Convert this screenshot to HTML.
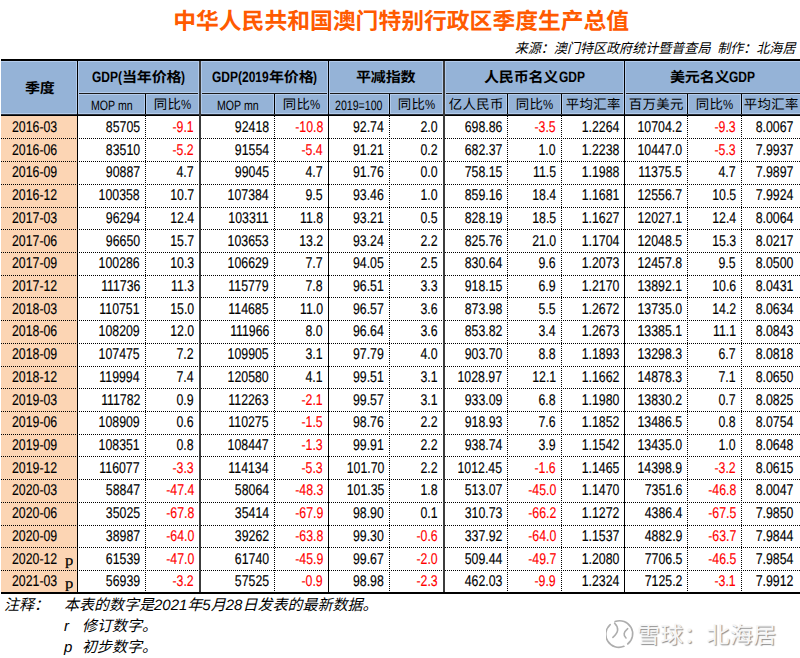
<!DOCTYPE html>
<html lang="zh-CN"><head><meta charset="utf-8"><title>澳门季度生产总值</title>
<style>
html,body{margin:0;padding:0;background:#fff}
body{width:800px;height:658px;position:relative;overflow:hidden;font-family:"Liberation Sans", "Noto Sans CJK SC", sans-serif;color:#000;text-rendering:geometricPrecision}
.a{position:absolute;white-space:nowrap}
.c{text-align:center}
.sb{display:inline-block}
.si{display:inline-block;transform-origin:0 50%}
.cj{font-family:"Noto Sans CJK SC", sans-serif}
.d{font-size:15.5px;line-height:18px;transform:scaleX(0.795);-webkit-text-stroke:0.15px currentColor}
.d.r{transform-origin:100% 50%}
.d.l{transform-origin:0 50%}
.red{color:#ff0000}
.hd{height:1px;background:repeating-linear-gradient(to right,#000 0 1px,transparent 1px 2px)}
.vd{width:1px;background:repeating-linear-gradient(to bottom,#000 0 1px,transparent 1px 2px)}
.pm{font-family:"Liberation Serif",serif;font-size:14.5px;line-height:18px;-webkit-text-stroke:0.2px #000;transform:scaleX(1.15);transform-origin:0 0}
.it{font-style:italic;font-family:"Liberation Sans", "Noto Sans CJK SC", sans-serif}
.wm{font-family:"Noto Sans CJK SC", sans-serif;color:#f6f6f6;text-shadow:1px 1px 1px #8c8c8c;letter-spacing:0.2px}
</style></head>
<body>
<div class="a" style="left:1px;top:61px;width:799px;height:53px;background:#95b3d7"></div>
<div class="a" style="left:1px;top:116px;width:76px;height:476px;background:#fcd5b4"></div>
<div class="a" style="left:1px;top:61px;width:799px;height:1px;background:#b3cbeb"></div>
<div class="a" style="left:78px;top:94px;width:722px;height:1px;background:#b3cbeb"></div>
<div class="a" style="left:78px;top:92px;width:722px;height:1px;background:#b3cbeb"></div>
<div class="a" style="left:1px;top:113px;width:799px;height:1px;background:#b3cbeb"></div>
<div class="a" style="left:1px;top:59px;width:799px;height:2px;background:#000"></div>
<div class="a" style="left:77px;top:93px;width:723px;height:1px;background:#1a1a1a"></div>
<div class="a" style="left:1px;top:114px;width:799px;height:1px;background:#2a2f38"></div>
<div class="a" style="left:1px;top:115px;width:799px;height:1px;background:#000"></div>
<div class="a hd" style="left:1px;top:138px;width:799px"></div>
<div class="a hd" style="left:1px;top:161px;width:799px"></div>
<div class="a hd" style="left:1px;top:184px;width:799px"></div>
<div class="a hd" style="left:1px;top:207px;width:799px"></div>
<div class="a hd" style="left:1px;top:229px;width:799px"></div>
<div class="a hd" style="left:1px;top:252px;width:799px"></div>
<div class="a hd" style="left:1px;top:275px;width:799px"></div>
<div class="a hd" style="left:1px;top:297px;width:799px"></div>
<div class="a hd" style="left:1px;top:320px;width:799px"></div>
<div class="a hd" style="left:1px;top:343px;width:799px"></div>
<div class="a hd" style="left:1px;top:366px;width:799px"></div>
<div class="a hd" style="left:1px;top:388px;width:799px"></div>
<div class="a hd" style="left:1px;top:411px;width:799px"></div>
<div class="a hd" style="left:1px;top:434px;width:799px"></div>
<div class="a hd" style="left:1px;top:456px;width:799px"></div>
<div class="a hd" style="left:1px;top:479px;width:799px"></div>
<div class="a hd" style="left:1px;top:502px;width:799px"></div>
<div class="a hd" style="left:1px;top:525px;width:799px"></div>
<div class="a hd" style="left:1px;top:547px;width:799px"></div>
<div class="a hd" style="left:1px;top:570px;width:799px"></div>
<div class="a" style="left:1px;top:592px;width:799px;height:2px;background:#000"></div>
<div class="a" style="left:76px;top:61px;width:1px;height:53px;background:#b3cbeb"></div>
<div class="a" style="left:78px;top:61px;width:1px;height:53px;background:#b3cbeb"></div>
<div class="a" style="left:144px;top:94px;width:1px;height:20px;background:#b3cbeb"></div>
<div class="a" style="left:146px;top:94px;width:1px;height:20px;background:#b3cbeb"></div>
<div class="a" style="left:198px;top:61px;width:1px;height:53px;background:#b3cbeb"></div>
<div class="a" style="left:201px;top:61px;width:1px;height:53px;background:#b3cbeb"></div>
<div class="a" style="left:273px;top:94px;width:1px;height:20px;background:#b3cbeb"></div>
<div class="a" style="left:275px;top:94px;width:1px;height:20px;background:#b3cbeb"></div>
<div class="a" style="left:327px;top:61px;width:1px;height:53px;background:#b3cbeb"></div>
<div class="a" style="left:329px;top:61px;width:1px;height:53px;background:#b3cbeb"></div>
<div class="a" style="left:388px;top:94px;width:1px;height:20px;background:#b3cbeb"></div>
<div class="a" style="left:390px;top:94px;width:1px;height:20px;background:#b3cbeb"></div>
<div class="a" style="left:442px;top:61px;width:1px;height:53px;background:#b3cbeb"></div>
<div class="a" style="left:445px;top:61px;width:1px;height:53px;background:#b3cbeb"></div>
<div class="a" style="left:506px;top:94px;width:1px;height:20px;background:#b3cbeb"></div>
<div class="a" style="left:508px;top:94px;width:1px;height:20px;background:#b3cbeb"></div>
<div class="a" style="left:560px;top:94px;width:1px;height:20px;background:#b3cbeb"></div>
<div class="a" style="left:562px;top:94px;width:1px;height:20px;background:#b3cbeb"></div>
<div class="a" style="left:623px;top:61px;width:1px;height:53px;background:#b3cbeb"></div>
<div class="a" style="left:625px;top:61px;width:1px;height:53px;background:#b3cbeb"></div>
<div class="a" style="left:686px;top:94px;width:1px;height:20px;background:#b3cbeb"></div>
<div class="a" style="left:688px;top:94px;width:1px;height:20px;background:#b3cbeb"></div>
<div class="a" style="left:740px;top:94px;width:1px;height:20px;background:#b3cbeb"></div>
<div class="a" style="left:742px;top:94px;width:1px;height:20px;background:#b3cbeb"></div>
<div class="a" style="left:77px;top:61px;width:1px;height:531px;background:#000"></div>
<div class="a" style="left:145px;top:94px;width:1px;height:20px;background:#000"></div>
<div class="a vd" style="left:145px;top:116px;height:476px"></div>
<div class="a" style="left:199px;top:61px;width:2px;height:531px;background:#3c3c3c"></div>
<div class="a" style="left:274px;top:94px;width:1px;height:20px;background:#000"></div>
<div class="a vd" style="left:274px;top:116px;height:476px"></div>
<div class="a" style="left:328px;top:61px;width:1px;height:531px;background:#000"></div>
<div class="a" style="left:389px;top:94px;width:1px;height:20px;background:#000"></div>
<div class="a vd" style="left:389px;top:116px;height:476px"></div>
<div class="a" style="left:443px;top:61px;width:2px;height:531px;background:#3c3c3c"></div>
<div class="a" style="left:507px;top:94px;width:1px;height:20px;background:#000"></div>
<div class="a vd" style="left:507px;top:116px;height:476px"></div>
<div class="a" style="left:561px;top:94px;width:1px;height:20px;background:#000"></div>
<div class="a vd" style="left:561px;top:116px;height:476px"></div>
<div class="a" style="left:624px;top:61px;width:1px;height:531px;background:#000"></div>
<div class="a" style="left:687px;top:94px;width:1px;height:20px;background:#000"></div>
<div class="a vd" style="left:687px;top:116px;height:476px"></div>
<div class="a" style="left:741px;top:94px;width:1px;height:20px;background:#000"></div>
<div class="a vd" style="left:741px;top:116px;height:476px"></div>
<div class="a" style="left:0.7px;width:801px;top:5.80px;line-height:30px;font-size:22.8px;text-align:center;color:#ff5a00;font-weight:bold">中华人民共和国澳门特别行政区季度生产总值</div>
<div class="a" style="right:4.5px;top:41.29px;line-height:16px;font-size:13.6px;font-style:italic;transform:scaleX(0.96);transform-origin:100% 50%">来源：澳门特区政府统计暨普查局<span style="display:inline-block;width:7px"> </span>制作：北海居</div>
<div class="a" style="left:24.56px;top:78.31px;line-height:20px;font-family:'Noto Sans CJK SC';font-size:14.2px;font-weight:bold;letter-spacing:-0.2px;transform:scaleX(1.06);transform-origin:0 0">季度</div>
<div class="a" style="left:91.74px;top:68.00px;line-height:20px;font-family:'Liberation Sans';font-size:15.0px;font-weight:bold;letter-spacing:0.0px;transform:scaleX(0.8);transform-origin:0 0">GDP(</div>
<div class="a" style="left:121.74px;top:67.01px;line-height:20px;font-family:'Noto Sans CJK SC';font-size:14.2px;font-weight:bold;letter-spacing:-0.2px;transform:scaleX(1.06);transform-origin:0 0">当年价格</div>
<div class="a" style="left:181.26px;top:68.00px;line-height:20px;font-family:'Liberation Sans';font-size:15.0px;font-weight:bold;letter-spacing:0.0px;transform:scaleX(0.8);transform-origin:0 0">)</div>
<div class="a" style="left:211.80px;top:68.00px;line-height:20px;font-family:'Liberation Sans';font-size:15.0px;font-weight:bold;letter-spacing:0.0px;transform:scaleX(0.8);transform-origin:0 0">GDP(2019</div>
<div class="a" style="left:268.50px;top:67.01px;line-height:20px;font-family:'Noto Sans CJK SC';font-size:14.2px;font-weight:bold;letter-spacing:-0.2px;transform:scaleX(1.06);transform-origin:0 0">年价格</div>
<div class="a" style="left:313.20px;top:68.00px;line-height:20px;font-family:'Liberation Sans';font-size:15.0px;font-weight:bold;letter-spacing:0.0px;transform:scaleX(0.8);transform-origin:0 0">)</div>
<div class="a" style="left:356.24px;top:67.01px;line-height:20px;font-family:'Noto Sans CJK SC';font-size:14.2px;font-weight:bold;letter-spacing:-0.2px;transform:scaleX(1.06);transform-origin:0 0">平减指数</div>
<div class="a" style="left:484.31px;top:67.01px;line-height:20px;font-family:'Noto Sans CJK SC';font-size:14.2px;font-weight:bold;letter-spacing:-0.2px;transform:scaleX(1.06);transform-origin:0 0">人民币名义</div>
<div class="a" style="left:558.67px;top:68.00px;line-height:20px;font-family:'Liberation Sans';font-size:15.0px;font-weight:bold;letter-spacing:0.0px;transform:scaleX(0.8);transform-origin:0 0">GDP</div>
<div class="a" style="left:669.73px;top:67.01px;line-height:20px;font-family:'Noto Sans CJK SC';font-size:14.2px;font-weight:bold;letter-spacing:-0.2px;transform:scaleX(1.06);transform-origin:0 0">美元名义</div>
<div class="a" style="left:729.25px;top:68.00px;line-height:20px;font-family:'Liberation Sans';font-size:15.0px;font-weight:bold;letter-spacing:0.0px;transform:scaleX(0.8);transform-origin:0 0">GDP</div>
<div class="a" style="left:90.69px;top:95.82px;line-height:20px;font-family:'Liberation Sans';font-size:13.5px;font-weight:normal;letter-spacing:0.0px;transform:scaleX(0.785);transform-origin:0 0">MOP mn</div>
<div class="a" style="left:153.83px;top:93.36px;line-height:20px;font-family:'Noto Sans CJK SC';font-size:13.4px;font-weight:normal;letter-spacing:0.35px;transform:scaleX(1.0);transform-origin:0 0">同比</div>
<div class="a" style="left:180.96px;top:95.02px;line-height:20px;font-family:'Liberation Sans';font-size:13.5px;font-weight:normal;letter-spacing:0.0px;transform:scaleX(0.85);transform-origin:0 0">%</div>
<div class="a" style="left:216.69px;top:95.82px;line-height:20px;font-family:'Liberation Sans';font-size:13.5px;font-weight:normal;letter-spacing:0.0px;transform:scaleX(0.785);transform-origin:0 0">MOP mn</div>
<div class="a" style="left:282.83px;top:93.36px;line-height:20px;font-family:'Noto Sans CJK SC';font-size:13.4px;font-weight:normal;letter-spacing:0.35px;transform:scaleX(1.0);transform-origin:0 0">同比</div>
<div class="a" style="left:309.96px;top:95.02px;line-height:20px;font-family:'Liberation Sans';font-size:13.5px;font-weight:normal;letter-spacing:0.0px;transform:scaleX(0.85);transform-origin:0 0">%</div>
<div class="a" style="left:335.27px;top:95.82px;line-height:20px;font-family:'Liberation Sans';font-size:13.5px;font-weight:normal;letter-spacing:0.0px;transform:scaleX(0.785);transform-origin:0 0">2019=100</div>
<div class="a" style="left:397.83px;top:93.36px;line-height:20px;font-family:'Noto Sans CJK SC';font-size:13.4px;font-weight:normal;letter-spacing:0.35px;transform:scaleX(1.0);transform-origin:0 0">同比</div>
<div class="a" style="left:424.96px;top:95.02px;line-height:20px;font-family:'Liberation Sans';font-size:13.5px;font-weight:normal;letter-spacing:0.0px;transform:scaleX(0.85);transform-origin:0 0">%</div>
<div class="a" style="left:448.69px;top:93.36px;line-height:20px;font-family:'Noto Sans CJK SC';font-size:13.4px;font-weight:normal;letter-spacing:0.35px;transform:scaleX(1.0);transform-origin:0 0">亿人民币</div>
<div class="a" style="left:515.83px;top:93.36px;line-height:20px;font-family:'Noto Sans CJK SC';font-size:13.4px;font-weight:normal;letter-spacing:0.35px;transform:scaleX(1.0);transform-origin:0 0">同比</div>
<div class="a" style="left:542.96px;top:95.02px;line-height:20px;font-family:'Liberation Sans';font-size:13.5px;font-weight:normal;letter-spacing:0.0px;transform:scaleX(0.85);transform-origin:0 0">%</div>
<div class="a" style="left:565.69px;top:93.36px;line-height:20px;font-family:'Noto Sans CJK SC';font-size:13.4px;font-weight:normal;letter-spacing:0.35px;transform:scaleX(1.0);transform-origin:0 0">平均汇率</div>
<div class="a" style="left:628.69px;top:93.36px;line-height:20px;font-family:'Noto Sans CJK SC';font-size:13.4px;font-weight:normal;letter-spacing:0.35px;transform:scaleX(1.0);transform-origin:0 0">百万美元</div>
<div class="a" style="left:695.83px;top:93.36px;line-height:20px;font-family:'Noto Sans CJK SC';font-size:13.4px;font-weight:normal;letter-spacing:0.35px;transform:scaleX(1.0);transform-origin:0 0">同比</div>
<div class="a" style="left:722.96px;top:95.02px;line-height:20px;font-family:'Liberation Sans';font-size:13.5px;font-weight:normal;letter-spacing:0.0px;transform:scaleX(0.85);transform-origin:0 0">%</div>
<div class="a" style="left:743.69px;top:93.36px;line-height:20px;font-family:'Noto Sans CJK SC';font-size:13.4px;font-weight:normal;letter-spacing:0.35px;transform:scaleX(1.0);transform-origin:0 0">平均汇率</div>
<div class="a d l" style="left:11.6px;top:118.93px">2016-03</div>
<div class="a d r" style="right:660px;top:118.93px">85705</div>
<div class="a d r red" style="right:606px;top:118.93px">-9.1</div>
<div class="a d r" style="right:531px;top:118.93px">92418</div>
<div class="a d r red" style="right:477px;top:118.93px">-10.8</div>
<div class="a d r" style="right:416px;top:118.93px">92.74</div>
<div class="a d r" style="right:362px;top:118.93px">2.0</div>
<div class="a d r" style="right:298px;top:118.93px">698.86</div>
<div class="a d r red" style="right:244px;top:118.93px">-3.5</div>
<div class="a d r" style="right:181px;top:118.93px">1.2264</div>
<div class="a d r" style="right:118px;top:118.93px">10704.2</div>
<div class="a d r red" style="right:64px;top:118.93px">-9.3</div>
<div class="a d r" style="right:7px;top:118.93px">8.0067</div>
<div class="a d l" style="left:11.6px;top:141.65px">2016-06</div>
<div class="a d r" style="right:660px;top:141.65px">83510</div>
<div class="a d r red" style="right:606px;top:141.65px">-5.2</div>
<div class="a d r" style="right:531px;top:141.65px">91554</div>
<div class="a d r red" style="right:477px;top:141.65px">-5.4</div>
<div class="a d r" style="right:416px;top:141.65px">91.21</div>
<div class="a d r" style="right:362px;top:141.65px">0.2</div>
<div class="a d r" style="right:298px;top:141.65px">682.37</div>
<div class="a d r" style="right:244px;top:141.65px">1.0</div>
<div class="a d r" style="right:181px;top:141.65px">1.2238</div>
<div class="a d r" style="right:118px;top:141.65px">10447.0</div>
<div class="a d r red" style="right:64px;top:141.65px">-5.3</div>
<div class="a d r" style="right:7px;top:141.65px">7.9937</div>
<div class="a d l" style="left:11.6px;top:164.37px">2016-09</div>
<div class="a d r" style="right:660px;top:164.37px">90887</div>
<div class="a d r" style="right:606px;top:164.37px">4.7</div>
<div class="a d r" style="right:531px;top:164.37px">99045</div>
<div class="a d r" style="right:477px;top:164.37px">4.7</div>
<div class="a d r" style="right:416px;top:164.37px">91.76</div>
<div class="a d r" style="right:362px;top:164.37px">0.0</div>
<div class="a d r" style="right:298px;top:164.37px">758.15</div>
<div class="a d r" style="right:244px;top:164.37px">11.5</div>
<div class="a d r" style="right:181px;top:164.37px">1.1988</div>
<div class="a d r" style="right:118px;top:164.37px">11375.5</div>
<div class="a d r" style="right:64px;top:164.37px">4.7</div>
<div class="a d r" style="right:7px;top:164.37px">7.9897</div>
<div class="a d l" style="left:11.6px;top:187.09px">2016-12</div>
<div class="a d r" style="right:660px;top:187.09px">100358</div>
<div class="a d r" style="right:606px;top:187.09px">10.7</div>
<div class="a d r" style="right:531px;top:187.09px">107384</div>
<div class="a d r" style="right:477px;top:187.09px">9.5</div>
<div class="a d r" style="right:416px;top:187.09px">93.46</div>
<div class="a d r" style="right:362px;top:187.09px">1.0</div>
<div class="a d r" style="right:298px;top:187.09px">859.16</div>
<div class="a d r" style="right:244px;top:187.09px">18.4</div>
<div class="a d r" style="right:181px;top:187.09px">1.1681</div>
<div class="a d r" style="right:118px;top:187.09px">12556.7</div>
<div class="a d r" style="right:64px;top:187.09px">10.5</div>
<div class="a d r" style="right:7px;top:187.09px">7.9924</div>
<div class="a d l" style="left:11.6px;top:209.81px">2017-03</div>
<div class="a d r" style="right:660px;top:209.81px">96294</div>
<div class="a d r" style="right:606px;top:209.81px">12.4</div>
<div class="a d r" style="right:531px;top:209.81px">103311</div>
<div class="a d r" style="right:477px;top:209.81px">11.8</div>
<div class="a d r" style="right:416px;top:209.81px">93.21</div>
<div class="a d r" style="right:362px;top:209.81px">0.5</div>
<div class="a d r" style="right:298px;top:209.81px">828.19</div>
<div class="a d r" style="right:244px;top:209.81px">18.5</div>
<div class="a d r" style="right:181px;top:209.81px">1.1627</div>
<div class="a d r" style="right:118px;top:209.81px">12027.1</div>
<div class="a d r" style="right:64px;top:209.81px">12.4</div>
<div class="a d r" style="right:7px;top:209.81px">8.0064</div>
<div class="a d l" style="left:11.6px;top:232.53px">2017-06</div>
<div class="a d r" style="right:660px;top:232.53px">96650</div>
<div class="a d r" style="right:606px;top:232.53px">15.7</div>
<div class="a d r" style="right:531px;top:232.53px">103653</div>
<div class="a d r" style="right:477px;top:232.53px">13.2</div>
<div class="a d r" style="right:416px;top:232.53px">93.24</div>
<div class="a d r" style="right:362px;top:232.53px">2.2</div>
<div class="a d r" style="right:298px;top:232.53px">825.76</div>
<div class="a d r" style="right:244px;top:232.53px">21.0</div>
<div class="a d r" style="right:181px;top:232.53px">1.1704</div>
<div class="a d r" style="right:118px;top:232.53px">12048.5</div>
<div class="a d r" style="right:64px;top:232.53px">15.3</div>
<div class="a d r" style="right:7px;top:232.53px">8.0217</div>
<div class="a d l" style="left:11.6px;top:255.25px">2017-09</div>
<div class="a d r" style="right:660px;top:255.25px">100286</div>
<div class="a d r" style="right:606px;top:255.25px">10.3</div>
<div class="a d r" style="right:531px;top:255.25px">106629</div>
<div class="a d r" style="right:477px;top:255.25px">7.7</div>
<div class="a d r" style="right:416px;top:255.25px">94.05</div>
<div class="a d r" style="right:362px;top:255.25px">2.5</div>
<div class="a d r" style="right:298px;top:255.25px">830.64</div>
<div class="a d r" style="right:244px;top:255.25px">9.6</div>
<div class="a d r" style="right:181px;top:255.25px">1.2073</div>
<div class="a d r" style="right:118px;top:255.25px">12457.8</div>
<div class="a d r" style="right:64px;top:255.25px">9.5</div>
<div class="a d r" style="right:7px;top:255.25px">8.0500</div>
<div class="a d l" style="left:11.6px;top:277.97px">2017-12</div>
<div class="a d r" style="right:660px;top:277.97px">111736</div>
<div class="a d r" style="right:606px;top:277.97px">11.3</div>
<div class="a d r" style="right:531px;top:277.97px">115779</div>
<div class="a d r" style="right:477px;top:277.97px">7.8</div>
<div class="a d r" style="right:416px;top:277.97px">96.51</div>
<div class="a d r" style="right:362px;top:277.97px">3.3</div>
<div class="a d r" style="right:298px;top:277.97px">918.15</div>
<div class="a d r" style="right:244px;top:277.97px">6.9</div>
<div class="a d r" style="right:181px;top:277.97px">1.2170</div>
<div class="a d r" style="right:118px;top:277.97px">13892.1</div>
<div class="a d r" style="right:64px;top:277.97px">10.6</div>
<div class="a d r" style="right:7px;top:277.97px">8.0431</div>
<div class="a d l" style="left:11.6px;top:300.69px">2018-03</div>
<div class="a d r" style="right:660px;top:300.69px">110751</div>
<div class="a d r" style="right:606px;top:300.69px">15.0</div>
<div class="a d r" style="right:531px;top:300.69px">114685</div>
<div class="a d r" style="right:477px;top:300.69px">11.0</div>
<div class="a d r" style="right:416px;top:300.69px">96.57</div>
<div class="a d r" style="right:362px;top:300.69px">3.6</div>
<div class="a d r" style="right:298px;top:300.69px">873.98</div>
<div class="a d r" style="right:244px;top:300.69px">5.5</div>
<div class="a d r" style="right:181px;top:300.69px">1.2672</div>
<div class="a d r" style="right:118px;top:300.69px">13735.0</div>
<div class="a d r" style="right:64px;top:300.69px">14.2</div>
<div class="a d r" style="right:7px;top:300.69px">8.0634</div>
<div class="a d l" style="left:11.6px;top:323.41px">2018-06</div>
<div class="a d r" style="right:660px;top:323.41px">108209</div>
<div class="a d r" style="right:606px;top:323.41px">12.0</div>
<div class="a d r" style="right:531px;top:323.41px">111966</div>
<div class="a d r" style="right:477px;top:323.41px">8.0</div>
<div class="a d r" style="right:416px;top:323.41px">96.64</div>
<div class="a d r" style="right:362px;top:323.41px">3.6</div>
<div class="a d r" style="right:298px;top:323.41px">853.82</div>
<div class="a d r" style="right:244px;top:323.41px">3.4</div>
<div class="a d r" style="right:181px;top:323.41px">1.2673</div>
<div class="a d r" style="right:118px;top:323.41px">13385.1</div>
<div class="a d r" style="right:64px;top:323.41px">11.1</div>
<div class="a d r" style="right:7px;top:323.41px">8.0843</div>
<div class="a d l" style="left:11.6px;top:346.13px">2018-09</div>
<div class="a d r" style="right:660px;top:346.13px">107475</div>
<div class="a d r" style="right:606px;top:346.13px">7.2</div>
<div class="a d r" style="right:531px;top:346.13px">109905</div>
<div class="a d r" style="right:477px;top:346.13px">3.1</div>
<div class="a d r" style="right:416px;top:346.13px">97.79</div>
<div class="a d r" style="right:362px;top:346.13px">4.0</div>
<div class="a d r" style="right:298px;top:346.13px">903.70</div>
<div class="a d r" style="right:244px;top:346.13px">8.8</div>
<div class="a d r" style="right:181px;top:346.13px">1.1893</div>
<div class="a d r" style="right:118px;top:346.13px">13298.3</div>
<div class="a d r" style="right:64px;top:346.13px">6.7</div>
<div class="a d r" style="right:7px;top:346.13px">8.0818</div>
<div class="a d l" style="left:11.6px;top:368.85px">2018-12</div>
<div class="a d r" style="right:660px;top:368.85px">119994</div>
<div class="a d r" style="right:606px;top:368.85px">7.4</div>
<div class="a d r" style="right:531px;top:368.85px">120580</div>
<div class="a d r" style="right:477px;top:368.85px">4.1</div>
<div class="a d r" style="right:416px;top:368.85px">99.51</div>
<div class="a d r" style="right:362px;top:368.85px">3.1</div>
<div class="a d r" style="right:298px;top:368.85px">1028.97</div>
<div class="a d r" style="right:244px;top:368.85px">12.1</div>
<div class="a d r" style="right:181px;top:368.85px">1.1662</div>
<div class="a d r" style="right:118px;top:368.85px">14878.3</div>
<div class="a d r" style="right:64px;top:368.85px">7.1</div>
<div class="a d r" style="right:7px;top:368.85px">8.0650</div>
<div class="a d l" style="left:11.6px;top:391.57px">2019-03</div>
<div class="a d r" style="right:660px;top:391.57px">111782</div>
<div class="a d r" style="right:606px;top:391.57px">0.9</div>
<div class="a d r" style="right:531px;top:391.57px">112263</div>
<div class="a d r red" style="right:477px;top:391.57px">-2.1</div>
<div class="a d r" style="right:416px;top:391.57px">99.57</div>
<div class="a d r" style="right:362px;top:391.57px">3.1</div>
<div class="a d r" style="right:298px;top:391.57px">933.09</div>
<div class="a d r" style="right:244px;top:391.57px">6.8</div>
<div class="a d r" style="right:181px;top:391.57px">1.1980</div>
<div class="a d r" style="right:118px;top:391.57px">13830.2</div>
<div class="a d r" style="right:64px;top:391.57px">0.7</div>
<div class="a d r" style="right:7px;top:391.57px">8.0825</div>
<div class="a d l" style="left:11.6px;top:414.29px">2019-06</div>
<div class="a d r" style="right:660px;top:414.29px">108909</div>
<div class="a d r" style="right:606px;top:414.29px">0.6</div>
<div class="a d r" style="right:531px;top:414.29px">110275</div>
<div class="a d r red" style="right:477px;top:414.29px">-1.5</div>
<div class="a d r" style="right:416px;top:414.29px">98.76</div>
<div class="a d r" style="right:362px;top:414.29px">2.2</div>
<div class="a d r" style="right:298px;top:414.29px">918.93</div>
<div class="a d r" style="right:244px;top:414.29px">7.6</div>
<div class="a d r" style="right:181px;top:414.29px">1.1852</div>
<div class="a d r" style="right:118px;top:414.29px">13486.5</div>
<div class="a d r" style="right:64px;top:414.29px">0.8</div>
<div class="a d r" style="right:7px;top:414.29px">8.0754</div>
<div class="a d l" style="left:11.6px;top:437.01px">2019-09</div>
<div class="a d r" style="right:660px;top:437.01px">108351</div>
<div class="a d r" style="right:606px;top:437.01px">0.8</div>
<div class="a d r" style="right:531px;top:437.01px">108447</div>
<div class="a d r red" style="right:477px;top:437.01px">-1.3</div>
<div class="a d r" style="right:416px;top:437.01px">99.91</div>
<div class="a d r" style="right:362px;top:437.01px">2.2</div>
<div class="a d r" style="right:298px;top:437.01px">938.74</div>
<div class="a d r" style="right:244px;top:437.01px">3.9</div>
<div class="a d r" style="right:181px;top:437.01px">1.1542</div>
<div class="a d r" style="right:118px;top:437.01px">13435.0</div>
<div class="a d r" style="right:64px;top:437.01px">1.0</div>
<div class="a d r" style="right:7px;top:437.01px">8.0648</div>
<div class="a d l" style="left:11.6px;top:459.73px">2019-12</div>
<div class="a d r" style="right:660px;top:459.73px">116077</div>
<div class="a d r red" style="right:606px;top:459.73px">-3.3</div>
<div class="a d r" style="right:531px;top:459.73px">114134</div>
<div class="a d r red" style="right:477px;top:459.73px">-5.3</div>
<div class="a d r" style="right:416px;top:459.73px">101.70</div>
<div class="a d r" style="right:362px;top:459.73px">2.2</div>
<div class="a d r" style="right:298px;top:459.73px">1012.45</div>
<div class="a d r red" style="right:244px;top:459.73px">-1.6</div>
<div class="a d r" style="right:181px;top:459.73px">1.1465</div>
<div class="a d r" style="right:118px;top:459.73px">14398.9</div>
<div class="a d r red" style="right:64px;top:459.73px">-3.2</div>
<div class="a d r" style="right:7px;top:459.73px">8.0615</div>
<div class="a d l" style="left:11.6px;top:482.45px">2020-03</div>
<div class="a d r" style="right:660px;top:482.45px">58847</div>
<div class="a d r red" style="right:606px;top:482.45px">-47.4</div>
<div class="a d r" style="right:531px;top:482.45px">58064</div>
<div class="a d r red" style="right:477px;top:482.45px">-48.3</div>
<div class="a d r" style="right:416px;top:482.45px">101.35</div>
<div class="a d r" style="right:362px;top:482.45px">1.8</div>
<div class="a d r" style="right:298px;top:482.45px">513.07</div>
<div class="a d r red" style="right:244px;top:482.45px">-45.0</div>
<div class="a d r" style="right:181px;top:482.45px">1.1470</div>
<div class="a d r" style="right:118px;top:482.45px">7351.6</div>
<div class="a d r red" style="right:64px;top:482.45px">-46.8</div>
<div class="a d r" style="right:7px;top:482.45px">8.0047</div>
<div class="a d l" style="left:11.6px;top:505.17px">2020-06</div>
<div class="a d r" style="right:660px;top:505.17px">35025</div>
<div class="a d r red" style="right:606px;top:505.17px">-67.8</div>
<div class="a d r" style="right:531px;top:505.17px">35414</div>
<div class="a d r red" style="right:477px;top:505.17px">-67.9</div>
<div class="a d r" style="right:416px;top:505.17px">98.90</div>
<div class="a d r" style="right:362px;top:505.17px">0.1</div>
<div class="a d r" style="right:298px;top:505.17px">310.73</div>
<div class="a d r red" style="right:244px;top:505.17px">-66.2</div>
<div class="a d r" style="right:181px;top:505.17px">1.1272</div>
<div class="a d r" style="right:118px;top:505.17px">4386.4</div>
<div class="a d r red" style="right:64px;top:505.17px">-67.5</div>
<div class="a d r" style="right:7px;top:505.17px">7.9850</div>
<div class="a d l" style="left:11.6px;top:527.89px">2020-09</div>
<div class="a d r" style="right:660px;top:527.89px">38987</div>
<div class="a d r red" style="right:606px;top:527.89px">-64.0</div>
<div class="a d r" style="right:531px;top:527.89px">39262</div>
<div class="a d r red" style="right:477px;top:527.89px">-63.8</div>
<div class="a d r" style="right:416px;top:527.89px">99.30</div>
<div class="a d r red" style="right:362px;top:527.89px">-0.6</div>
<div class="a d r" style="right:298px;top:527.89px">337.92</div>
<div class="a d r red" style="right:244px;top:527.89px">-64.0</div>
<div class="a d r" style="right:181px;top:527.89px">1.1537</div>
<div class="a d r" style="right:118px;top:527.89px">4882.9</div>
<div class="a d r red" style="right:64px;top:527.89px">-63.7</div>
<div class="a d r" style="right:7px;top:527.89px">7.9844</div>
<div class="a d l" style="left:11.6px;top:550.61px">2020-12</div>
<div class="a pm" style="left:64.5px;top:552.36px;clip-path:inset(0 0 1.78px 0)">p</div>
<div class="a d r" style="right:660px;top:550.61px">61539</div>
<div class="a d r red" style="right:606px;top:550.61px">-47.0</div>
<div class="a d r" style="right:531px;top:550.61px">61740</div>
<div class="a d r red" style="right:477px;top:550.61px">-45.9</div>
<div class="a d r" style="right:416px;top:550.61px">99.67</div>
<div class="a d r red" style="right:362px;top:550.61px">-2.0</div>
<div class="a d r" style="right:298px;top:550.61px">509.44</div>
<div class="a d r red" style="right:244px;top:550.61px">-49.7</div>
<div class="a d r" style="right:181px;top:550.61px">1.2080</div>
<div class="a d r" style="right:118px;top:550.61px">7706.5</div>
<div class="a d r red" style="right:64px;top:550.61px">-46.5</div>
<div class="a d r" style="right:7px;top:550.61px">7.9854</div>
<div class="a d l" style="left:11.6px;top:573.33px">2021-03</div>
<div class="a pm" style="left:64.5px;top:575.08px;clip-path:inset(0 0 1.78px 0)">p</div>
<div class="a d r" style="right:660px;top:573.33px">56939</div>
<div class="a d r red" style="right:606px;top:573.33px">-3.2</div>
<div class="a d r" style="right:531px;top:573.33px">57525</div>
<div class="a d r red" style="right:477px;top:573.33px">-0.9</div>
<div class="a d r" style="right:416px;top:573.33px">98.98</div>
<div class="a d r red" style="right:362px;top:573.33px">-2.3</div>
<div class="a d r" style="right:298px;top:573.33px">462.03</div>
<div class="a d r red" style="right:244px;top:573.33px">-9.9</div>
<div class="a d r" style="right:181px;top:573.33px">1.2324</div>
<div class="a d r" style="right:118px;top:573.33px">7125.2</div>
<div class="a d r red" style="right:64px;top:573.33px">-3.1</div>
<div class="a d r" style="right:7px;top:573.33px">7.9912</div>
<div class="a it" style="left:4px;top:596.30px;line-height:20px;font-size:15px">注释：</div>
<div class="a it" style="left:64px;top:596.30px;line-height:20px;font-size:15px">本表的数字是2021年5月28日发表的最新数据。</div>
<div class="a it" style="left:64px;top:616.80px;line-height:20px;font-size:15px">r</div>
<div class="a it" style="left:82px;top:616.80px;line-height:20px;font-size:15px">修订数字。</div>
<div class="a it" style="left:64px;top:637.80px;line-height:20px;font-size:15px">p</div>
<div class="a it" style="left:82px;top:637.80px;line-height:20px;font-size:15px">初步数字。</div>
<svg class="a" style="left:605.5px;top:619px" width="30" height="30" viewBox="0 0 30 30">
<g fill="none" stroke="#adadad" stroke-width="1.6" stroke-linecap="round">
<path d="M4.2 5.6 A13 13 0 0 0 17.9 27.3"/>
<path d="M9.1 2.6 A13 13 0 0 1 21.7 25"/>
<path d="M8.6 4.2 Q15.5 11 6.9 18.4"/>
<path d="M21.7 9.7 Q15.5 15 20 19"/>
</g></svg>
<div class="a wm" style="left:637px;top:619.03px;line-height:28px;font-size:23px">雪球：北海居</div>
</body></html>
